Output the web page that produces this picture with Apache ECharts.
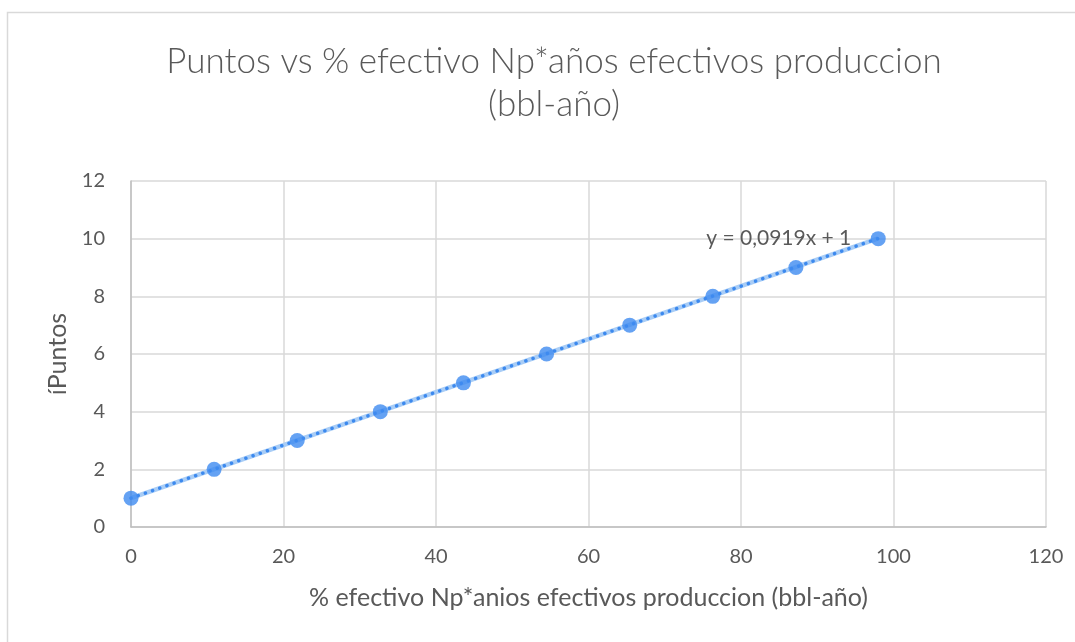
<!DOCTYPE html>
<html>
<head>
<meta charset="utf-8">
<script src="https://cdn.jsdelivr.net/npm/echarts@6/dist/echarts.min.js"></script>
<style>
  html, body { margin: 0; padding: 0; background: #fff; }
  #chart { width: 1075px; height: 642px; }
</style>
</head>
<body>
<div id="chart"></div>
<script>
// Effective Np*years (%) vs points
const xValues = [0, 10.9, 21.8, 32.7, 43.6, 54.5, 65.4, 76.3, 87.2, 98.0];
const puntos = [1, 2, 3, 4, 5, 6, 7, 8, 9, 10];
// Linear trendline y = slope * x + intercept
const slope = 0.0919;
const intercept = 1;
const trendLabel = 'y = 0,0919x + 1';
const xTicks = [0, 20, 40, 60, 80, 100, 120];
const yTicks = [0, 2, 4, 6, 8, 10, 12];

const FONT = 'Lato, "Open Sans", sans-serif';
const TEXT = '#595959';

const scatterData = xValues.map((x, i) => [x, puntos[i]]);
const xMin = Math.min(...xValues), xMax = Math.max(...xValues);
const trendData = [[xMin, slope * xMin + intercept], [xMax, slope * xMax + intercept]];

const chart = echarts.init(document.getElementById('chart'));
chart.setOption({
  backgroundColor: '#ffffff',
  animation: false,
  title: {
    text: 'Puntos vs % efectivo Np*años efectivos produccion\n(bbl-año)',
    left: 549,
    textAlign: 'center',
    top: 35,
    textStyle: { fontFamily: FONT, fontSize: 35, fontWeight: 300, color: TEXT, lineHeight: 43 }
  },
  graphic: [{
    type: 'rect',
    shape: { x: 7.5, y: 12.5, width: 1080, height: 700 },
    style: { fill: null, stroke: '#d9d9d9', lineWidth: 1.5 },
    silent: true
  }],
  grid: { left: 131, right: 29, top: 181, bottom: 115 },
  xAxis: {
    type: 'value',
    min: xTicks[0], max: xTicks[xTicks.length - 1], interval: 20,
    name: '% efectivo Np*anios efectivos produccion (bbl-año)',
    nameLocation: 'middle', nameGap: 58,
    nameTextStyle: { fontFamily: FONT, fontSize: 25, color: TEXT },
    axisLine: { show: true, lineStyle: { color: '#bfbfbf', width: 1.5 } },
    axisTick: { show: false },
    axisLabel: { fontFamily: FONT, fontSize: 20, color: TEXT, margin: 20 },
    splitLine: { show: true, lineStyle: { color: '#d9d9d9', width: 1.5 } }
  },
  yAxis: {
    type: 'value',
    min: yTicks[0], max: yTicks[yTicks.length - 1], interval: 2,
    name: 'íPuntos',
    nameLocation: 'middle', nameGap: 58,
    nameTextStyle: { fontFamily: FONT, fontSize: 25, color: TEXT },
    axisLine: { show: true, lineStyle: { color: '#bfbfbf', width: 1.5 } },
    axisTick: { show: false },
    axisLabel: { fontFamily: FONT, fontSize: 20, color: TEXT, margin: 26 },
    splitLine: { show: true, lineStyle: { color: '#d9d9d9', width: 1.5 } }
  },
  series: [
    {
      // soft band under the dotted trendline
      type: 'line',
      data: trendData,
      symbol: 'none',
      silent: true,
      lineStyle: { color: '#a9cdf6', width: 4.5 },
      z: 2
    },
    {
      type: 'line',
      data: trendData,
      symbol: 'none',
      silent: true,
      lineStyle: { color: '#3c89ee', width: 3.5, type: [0.1, 7.5], cap: 'round' },
      endLabel: {
        show: true,
        formatter: trendLabel,
        fontFamily: FONT, fontSize: 21, color: TEXT,
        align: 'right',
        distance: 0,
        offset: [-27, 0]
      },
      z: 3
    },
    {
      type: 'scatter',
      data: scatterData,
      symbol: 'circle',
      symbolSize: 15,
      itemStyle: { color: '#3f8bf0' },
      z: 5
    }
  ]
});
</script>
</body>
</html>
